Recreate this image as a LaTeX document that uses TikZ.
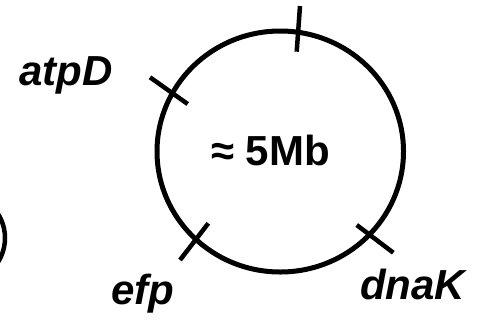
\documentclass[tikz,border=0pt]{standalone}
\usepackage{fontspec}
\setmainfont{Liberation Sans}
\begin{document}
\begin{tikzpicture}[x=1pt,y=-1pt,
  ring/.style={line width=5pt},
  tickmark/.style={line width=4.5pt},
  gene/.style={font=\fontsize{42}{44}\selectfont\bfseries\itshape, inner sep=0pt, anchor=base west},
  sizelabel/.style={font=\fontsize{42}{44}\selectfont\bfseries, inner sep=0pt, anchor=base west}]
\useasboundingbox (0,0) rectangle (481,325);
% main chromosome
\draw[ring] (280.25,151.5) ellipse [x radius=123.25, y radius=120.5];
% partial circle at left edge
\draw[ring, line width=4.5pt] (-40,238) circle [radius=45];
% tick marks
\coordinate (t1a) at (300,6);      \coordinate (t1b) at (296.7,51.7);
\coordinate (t2a) at (150,77.3);   \coordinate (t2b) at (187.7,104);
\coordinate (t3a) at (208.3,223.3);\coordinate (t3b) at (180,260);
\coordinate (t4a) at (356.7,225);  \coordinate (t4b) at (393.3,252.7);
\draw[tickmark] (t1a) -- (t1b);
\draw[tickmark] (t2a) -- (t2b);
\draw[tickmark] (t3a) -- (t3b);
\draw[tickmark] (t4a) -- (t4b);
% labels
\node[gene] (atpD) at (19,85) {atpD};
\node[gene] (efp) at (111,304) {efp};
\node[gene] (dnaK) at (360,299) {dnaK};
\node[sizelabel] (size) at (211,165) {≈ 5Mb};
\end{tikzpicture}
\end{document}
